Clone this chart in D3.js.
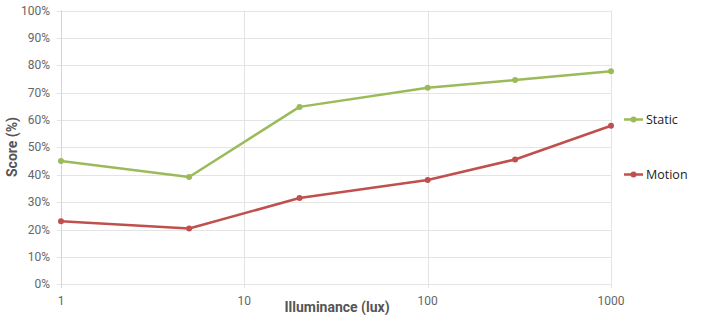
<!DOCTYPE html>
<html>
<head>
<meta charset="utf-8">
<script src="https://cdn.jsdelivr.net/npm/d3@7"></script>
<style>
  body { margin: 0; background: #fff; }
  svg { display: block; }
</style>
</head>
<body>
<svg id="chart" width="720" height="315"></svg>
<script>
// data
const lux = [1, 5, 20, 100, 300, 1000];
const staticScore = [45, 39.2, 64.8, 71.8, 74.6, 77.8];
const motionScore = [23, 20.4, 31.5, 38.1, 45.6, 57.9];
const seriesNames = ['Static', 'Motion'];
const seriesColors = ['#9bbb59', '#c0504d'];
const xTicks = [1, 10, 100, 1000];
const yTicks = [0, 10, 20, 30, 40, 50, 60, 70, 80, 90, 100];

function drawChart(svgId) {
	const svg = d3.select(svgId);
	svg.selectAll("*").remove();

	const left = 61, right = 611, top = 10.5, bottom = 284.3;

	const xScale = d3.scaleLog().domain([1, 1000]).range([left, right]);
	const yScale = d3.scaleLinear().domain([0, 100]).range([bottom, top]);

	// horizontal grid
	svg.append("g")
		.selectAll("line")
		.data(yTicks)
		.enter()
		.append("line")
		.attr("x1", left - 4)
		.attr("x2", right)
		.attr("y1", d => Math.round(yScale(d)) + 0.5)
		.attr("y2", d => Math.round(yScale(d)) + 0.5)
		.attr("stroke", "#e4e4e4")
		.attr("stroke-width", 1);

	// vertical grid
	svg.append("g")
		.selectAll("line")
		.data(xTicks)
		.enter()
		.append("line")
		.attr("x1", d => Math.round(xScale(d)) + 0.5)
		.attr("x2", d => Math.round(xScale(d)) + 0.5)
		.attr("y1", top)
		.attr("y2", bottom + 4)
		.attr("stroke", d => d === 1 ? "#d4d4d4" : "#e4e4e4")
		.attr("stroke-width", 1);

	// y tick labels
	svg.append("g")
		.selectAll("text")
		.data(yTicks)
		.enter()
		.append("text")
		.attr("x", 50)
		.attr("y", d => yScale(d) + 4)
		.attr("text-anchor", "end")
		.attr("font-family", "Roboto, sans-serif")
		.attr("font-size", "12px")
		.attr("fill", "#666")
		.text(d => d + "%");

	// x tick labels
	svg.append("g")
		.selectAll("text")
		.data(xTicks)
		.enter()
		.append("text")
		.attr("x", d => xScale(d))
		.attr("y", 305)
		.attr("text-anchor", "middle")
		.attr("font-family", "Roboto, sans-serif")
		.attr("font-size", "12px")
		.attr("fill", "#666")
		.text(d => d);

	// axis titles
	svg.append("text")
		.attr("x", 337).attr("y", 312)
		.attr("text-anchor", "middle")
		.attr("font-family", "Roboto, sans-serif")
		.attr("font-size", "14px")
		.attr("font-weight", "bold")
		.attr("fill", "#555")
		.text("Illuminance (lux)");

	svg.append("text")
		.attr("transform", "translate(17,147) rotate(-90)")
		.attr("text-anchor", "middle")
		.attr("font-family", "Roboto, sans-serif")
		.attr("font-size", "14px")
		.attr("font-weight", "bold")
		.attr("fill", "#555")
		.text("Score (%)");

	const line = d3.line()
		.x(d => xScale(d.x))
		.y(d => yScale(d.y));

	const series = [staticScore, motionScore].map(vals => vals.map((v, i) => ({ x: lux[i], y: v })));

	series.forEach((pts, si) => {
		svg.append("path")
			.datum(pts)
			.attr("fill", "none")
			.attr("stroke", seriesColors[si])
			.attr("stroke-width", 2.5)
			.attr("stroke-linejoin", "round")
			.attr("d", line);

		svg.append("g")
			.selectAll("circle")
			.data(pts)
			.enter()
			.append("circle")
			.attr("cx", d => xScale(d.x))
			.attr("cy", d => yScale(d.y))
			.attr("r", 3)
			.attr("fill", seriesColors[si]);
	});

	// legend
	const legendY = [119.5, 174.5];
	seriesNames.forEach((name, i) => {
		const g = svg.append("g");
		g.append("line")
			.attr("x1", 624).attr("x2", 643)
			.attr("y1", legendY[i]).attr("y2", legendY[i])
			.attr("stroke", seriesColors[i])
			.attr("stroke-width", 2.5);
		g.append("circle")
			.attr("cx", 633.5).attr("cy", legendY[i]).attr("r", 3)
			.attr("fill", seriesColors[i]);
		g.append("text")
			.attr("x", 646).attr("y", legendY[i] + 4.5)
			.attr("font-family", "'Open Sans', sans-serif")
			.attr("font-size", "12.5px")
			.attr("fill", "#222")
			.text(name);
	});
}

drawChart("#chart");
</script>
</body>
</html>
